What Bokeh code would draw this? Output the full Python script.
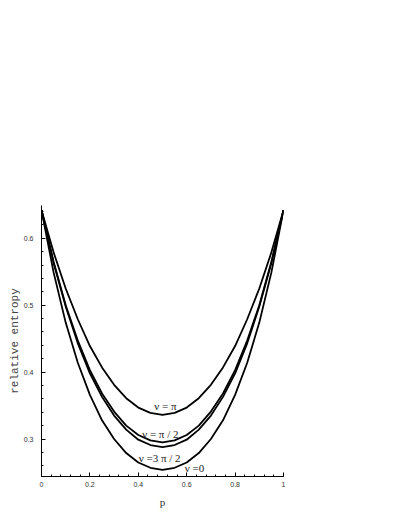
from bokeh.plotting import figure
from bokeh.models import FixedTicker, Label
from bokeh.embed import file_html
from bokeh.resources import INLINE

# ---- data ----
p_vals = [0.0, 0.05, 0.1, 0.15, 0.2, 0.25, 0.3, 0.35, 0.4, 0.45, 0.5,
          0.55, 0.6, 0.65, 0.7, 0.75, 0.8, 0.85, 0.9, 0.95, 1.0]
nu_pi = [0.642, 0.579, 0.525, 0.479, 0.439, 0.407, 0.381, 0.361, 0.347, 0.339, 0.336,
         0.339, 0.347, 0.361, 0.381, 0.407, 0.439, 0.479, 0.525, 0.579, 0.642]
nu_pi_2 = [0.642, 0.565, 0.500, 0.447, 0.403, 0.368, 0.341, 0.320, 0.306, 0.298, 0.295,
           0.298, 0.306, 0.320, 0.341, 0.368, 0.403, 0.447, 0.500, 0.565, 0.642]
nu_3pi_2 = [0.642, 0.563, 0.498, 0.443, 0.398, 0.363, 0.335, 0.314, 0.299, 0.291, 0.288,
            0.291, 0.299, 0.314, 0.335, 0.363, 0.398, 0.443, 0.498, 0.563, 0.642]
nu_0 = [0.642, 0.549, 0.474, 0.414, 0.366, 0.328, 0.300, 0.279, 0.265, 0.257, 0.254,
        0.257, 0.265, 0.279, 0.300, 0.328, 0.366, 0.414, 0.474, 0.549, 0.642]
series_labels = ["ν = π", "ν = π / 2", "ν =3 π / 2", "ν =0"]
x_ticks = [0, 0.2, 0.4, 0.6, 0.8, 1]
x_tick_labels = ["0", "0.2", "0.4", "0.6", "0.8", "1"]
y_ticks = [0.3, 0.4, 0.5, 0.6]
y_tick_labels = ["0.3", "0.4", "0.5", "0.6"]

p = figure(width=390, height=518, output_backend="svg", toolbar_location=None,
           x_range=(0, 1), y_range=(0.244, 0.649),
           min_border_left=41, min_border_right=107, min_border_top=205, min_border_bottom=42)
p.outline_line_color = None
p.xgrid.visible = False
p.ygrid.visible = False
p.background_fill_color = "white"
p.border_fill_color = "white"

for ys in (nu_pi, nu_pi_2, nu_3pi_2, nu_0):
    p.line(p_vals, ys, line_color="black", line_width=1.8)

minor_x = [i / 25 for i in range(26)]
minor_y = [0.24 + i * 0.02 for i in range(22)]
p.xaxis.ticker = FixedTicker(ticks=x_ticks, minor_ticks=minor_x)
p.yaxis.ticker = FixedTicker(ticks=y_ticks, minor_ticks=minor_y)
p.xaxis.major_label_overrides = {t: l for t, l in zip(x_ticks, x_tick_labels)}
p.yaxis.major_label_overrides = {t: l for t, l in zip(y_ticks, y_tick_labels)}

for ax in (p.xaxis[0], p.yaxis[0]):
    ax.axis_line_color = "black"
    ax.axis_line_width = 1
    ax.major_tick_in = 4
    ax.major_tick_out = 0
    ax.minor_tick_in = 2
    ax.minor_tick_out = 0
    ax.major_tick_line_color = "black"
    ax.minor_tick_line_color = "black"
    ax.major_label_text_font = "Liberation Sans"
    ax.major_label_text_font_size = "7px"
    ax.major_label_text_color = "#333333"

p.xaxis.axis_label = "p"
p.xaxis.axis_label_text_font = "Liberation Serif"
p.xaxis.axis_label_text_font_style = "normal"
p.xaxis.axis_label_text_font_size = "11px"
p.xaxis.axis_label_text_color = "#333333"
p.xaxis.major_label_standoff = 5
p.xaxis.axis_label_standoff = 6

p.yaxis.axis_label = "relative entropy"
p.yaxis.axis_label_text_font = "Liberation Mono"
p.yaxis.axis_label_text_font_style = "normal"
p.yaxis.axis_label_text_font_size = "11px"
p.yaxis.axis_label_text_color = "#444444"
p.yaxis.major_label_standoff = 8
p.yaxis.axis_label_standoff = 0

label_pos = [(0.512, min(nu_pi) + 0.014), (0.491, min(nu_pi_2) + 0.012),
             (0.488, 0.271), (0.632, 0.257)]
for txt, (lx, ly) in zip(series_labels, label_pos):
    p.add_layout(Label(x=lx, y=ly, text=txt, text_align="center", text_baseline="middle",
                       text_font="Liberation Serif", text_font_size="11px", text_color="#222222"))

open("out.html", "w").write(file_html(p, INLINE))
